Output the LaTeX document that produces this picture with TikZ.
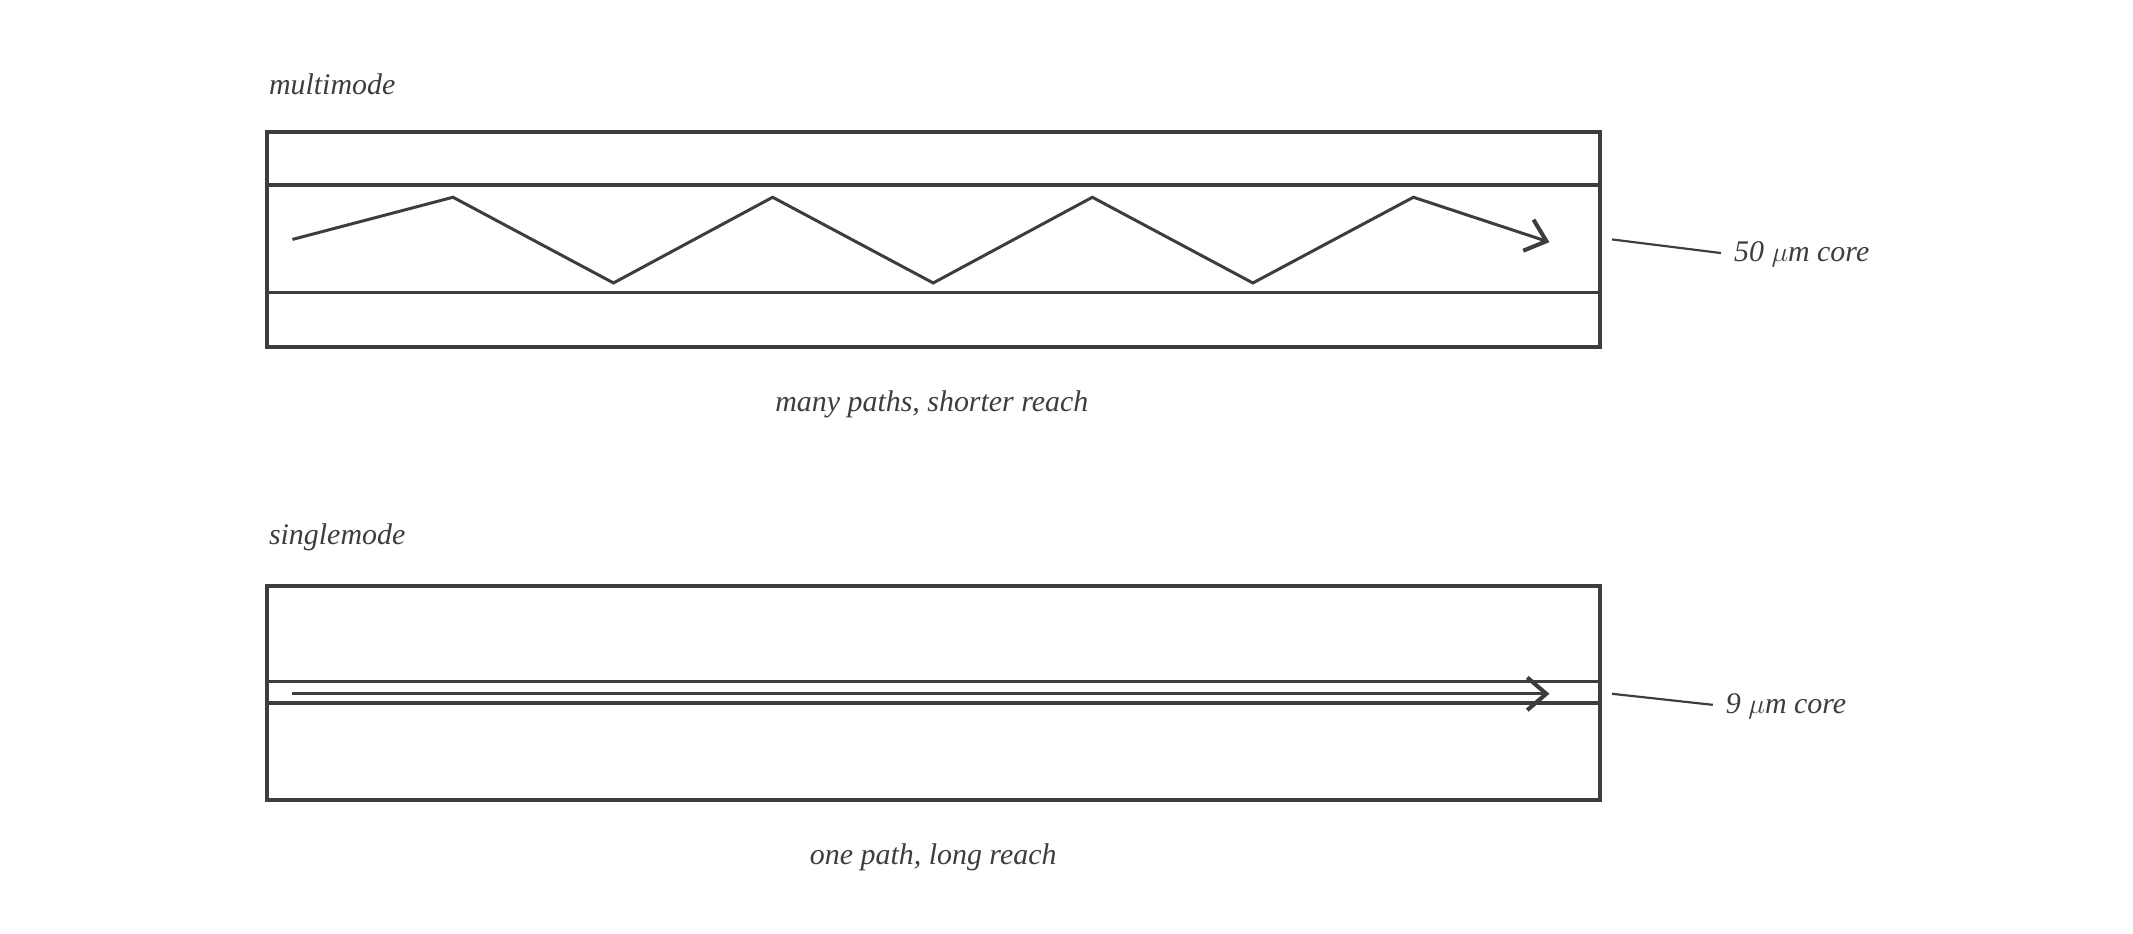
\documentclass[tikz,border=0pt]{standalone}
\usepackage{fontspec}
\setmainfont{Liberation Serif}
\usetikzlibrary{arrows.meta}
\definecolor{ink}{HTML}{3D3D40}
\tikzset{every picture/.style={line width=2pt}}
\tikzset{
  fiber/.style={draw=ink, line width=2.8pt},
  ray/.style={draw=ink, line width=2.2pt, -{Straight Barb[length=14pt,width=24pt,line width=3pt]}},
  lead/.style={draw=ink, line width=1.6pt, shorten >=8pt},
  lbl/.style={text=ink, inner sep=0.75pt, font=\itshape\fontsize{22}{26}\selectfont}
}
\begin{document}
\begin{tikzpicture}[x=1pt,y=1pt,yscale=-1]
\useasboundingbox (0,0) rectangle (1568,686);

%Multimode fiber
\draw (196,62) node [lbl, anchor=west] (mmtitle) {multimode};
\draw [fiber] (196,97) rectangle (1176,255);
\draw [fiber] (196,136) -- (1176,136);
\draw [fiber] (196,215) -- (1176,215);
\coordinate (mmstart) at (215,176);
\coordinate (mmend) at (1139,178);
\draw [ray] (mmstart) -- (333,145) -- (451,208) -- (568,145) -- (686,208) -- (803,145) -- (921,208) -- (1039,145) -- (mmend);
\coordinate (mmlead) at (1185,176);
\draw (1273,187) node [lbl, anchor=west] (mmcore) {50 $\mu$m core};
\draw [lead] (mmlead) -- (mmcore.west);
\draw (685,297) node [lbl] (mmnote) {many paths, shorter reach};

%Singlemode fiber
\draw (196,395) node [lbl, anchor=west] (smtitle) {singlemode};
\draw [fiber] (196,431) rectangle (1176,588);
\draw [fiber] (196,501) -- (1176,501);
\draw [fiber] (196,517) -- (1176,517);
\coordinate (smstart) at (215,510);
\coordinate (smend) at (1139,510);
\draw [ray] (smstart) -- (smend);
\coordinate (smlead) at (1185,510);
\draw (1267,519) node [lbl, anchor=west] (smcore) {9 $\mu$m core};
\draw [lead] (smlead) -- (smcore.west);
\draw (686,630) node [lbl] (smnote) {one path, long reach};

\end{tikzpicture}
\end{document}
